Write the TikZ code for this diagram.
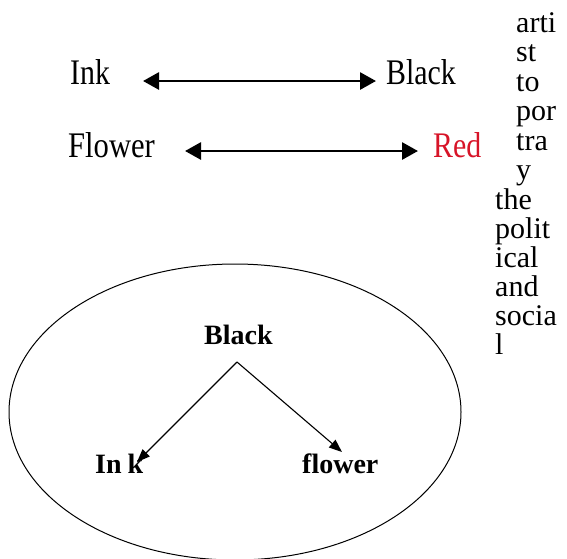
\documentclass[tikz,border=0pt]{standalone}
\usepackage{fontspec}
\setmainfont{Liberation Serif}
\usetikzlibrary{arrows.meta}
\definecolor{redword}{RGB}{215,20,40}
\tikzset{
  bigword/.style={anchor=base west, inner sep=0pt, font=\fontsize{36}{40}\selectfont},
  colword/.style={anchor=base west, inner sep=0pt, font=\fontsize{30}{30}\selectfont},
  boldword/.style={anchor=base west, inner sep=0pt, font=\fontsize{28}{30}\selectfont\bfseries},
  biarrow/.style={line width=2.8pt, {Triangle[length=16pt,width=17pt]}-{Triangle[length=16pt,width=17pt]}},
  onearrow/.style={line width=1.1pt, -{Triangle[length=13pt,width=10pt]}},
  ring/.style={draw, line width=1pt}
}
\begin{document}
\begin{tikzpicture}[x=1pt,y=-1pt]
\useasboundingbox (0,0) rectangle (567,558);
\clip (0,0) rectangle (567,558);
% top pairs
\node[bigword] (ink) at (70,84) {\scalebox{0.83}[1]{Ink}};
\node[bigword] (black) at (386,84) {\scalebox{0.83}[1]{Black}};
\node[bigword] (flower) at (68,157) {\scalebox{0.85}[1]{Flower}};
\node[bigword, text=redword] (red) at (433,157) {\scalebox{0.83}[1]{Red}};
\coordinate (a1l) at (143,81);
\coordinate (a1r) at (376,81);
\coordinate (a2l) at (185,151);
\coordinate (a2r) at (418,151);
\draw[biarrow] (a1l) -- (a1r);
\draw[biarrow] (a2l) -- (a2r);
% right column text
\node[colword] (t1) at (516,32) {arti};
\node[colword] (t2) at (516,61.5) {st};
\node[colword] (t3) at (516,91) {to};
\node[colword] (t4) at (516,120.5) {por};
\node[colword] (t5) at (516,150) {tra};
\node[colword] (t6) at (516,179.5) {y};
\node[colword] (t7) at (495,209) {the};
\node[colword] (t8) at (495,238) {polit};
\node[colword] (t9) at (495,267) {ical};
\node[colword] (t10) at (495,296) {and};
\node[colword] (t11) at (495,325) {socia};
\node[colword] (t12) at (495,354) {l};
% ellipse
\draw[ring] (235,412) ellipse [x radius=226, y radius=148];
\node[boldword] (cblack) at (204,344) {Black};
\node[boldword] (cink) at (95,473) {In\kern6pt k};
\node[boldword] (cflower) at (302,473) {flower};
\coordinate (apex) at (237,362);
\coordinate (tipink) at (137,462);
\coordinate (tipflower) at (342,452);
\draw[onearrow] (apex) -- (tipink);
\draw[onearrow] (apex) -- (tipflower);
\end{tikzpicture}
\end{document}
